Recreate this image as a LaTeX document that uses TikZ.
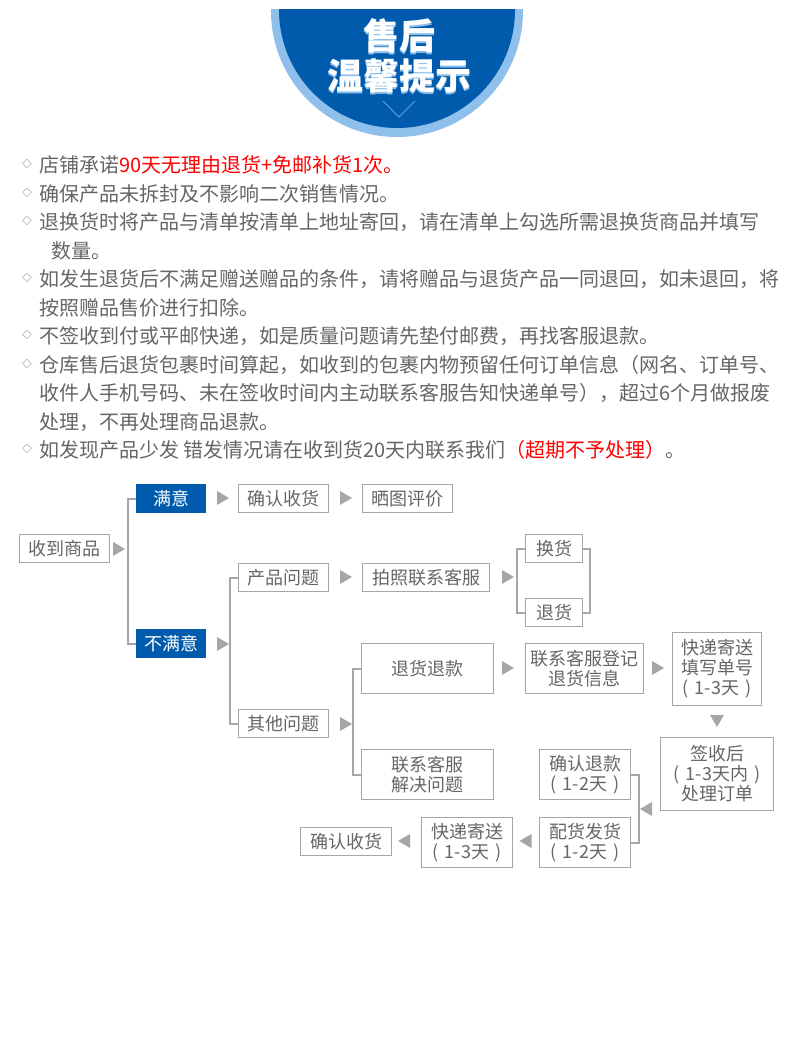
\documentclass[tikz,border=0pt]{standalone}
\usepackage{fontspec}
\usepackage{xcolor}
\setmainfont{Noto Sans CJK SC}
\usetikzlibrary{positioning}

\definecolor{deepblue}{HTML}{005BAC}
\definecolor{paleblue}{HTML}{8FC0EC}
\definecolor{linegray}{HTML}{A6A6A6}
\definecolor{textgray}{HTML}{666666}

\newcommand{\days}[1]{(\hspace{4.5pt}#1\hspace{4.5pt})}

\tikzset{
  x=0.75pt, y=-0.75pt,
  sized/.style 2 args={minimum width=#1*0.75pt, minimum height=#2*0.75pt},
  box/.style={draw=linegray, line width=0.85pt, text=textgray, inner sep=0pt, outer sep=0pt, align=center,
    font=\fontsize{13.5}{15}\selectfont},
  bluebox/.style={box, draw=none, fill=deepblue, text=white},
  bracket/.style={draw=linegray, line width=1.5pt},
  tip/.style={fill=linegray},
  para/.style={anchor=west, text=textgray, inner sep=0pt, font=\fontsize{15}{15}\selectfont},
  title/.style={font=\fontsize{27}{27}\selectfont\bfseries}
}

\begin{document}
\begin{tikzpicture}
\fill[white] (0,0) rectangle (790,1046);

% header
\begin{scope}
\clip (0,9) rectangle (790,150);
\fill[paleblue] (397,11) circle (126);
\fill[deepblue] (397,10) circle (118);
\end{scope}
\draw[paleblue!70!deepblue, line width=0.6pt] (383,101) -- (399,117) -- (415,101);
\node[title, text=paleblue] (head1s) at (399,38) {售后};
\node[title, text=paleblue] (head2s) at (399,78) {温馨提示};
\node[title, text=white] (head1) at (399,36) {售后};
\node[title, text=white] (head2) at (399,76) {温馨提示};

% notes
\foreach \y in {164,193,221,278,335,364,449}
  \node[text=textgray, font=\fontsize{7}{7}\selectfont, inner sep=0pt] at (27,\y) {◇};
\node[para] (line1) at (39,165) {店铺承诺\textcolor{red}{90天无理由退货+免邮补货1次。}};
\node[para] (line2) at (39,194) {确保产品未拆封及不影响二次销售情况。};
\node[para] (line3) at (39,222) {退换货时将产品与清单按清单上地址寄回，请在清单上勾选所需退换货商品并填写};
\node[para] (line4) at (51,251) {数量。};
\node[para] (line5) at (39,279) {如发生退货后不满足赠送赠品的条件，请将赠品与退货产品一同退回，如未退回，将};
\node[para] (line6) at (39,308) {按照赠品售价进行扣除。};
\node[para] (line7) at (39,336) {不签收到付或平邮快递，如是质量问题请先垫付邮费，再找客服退款。};
\node[para] (line8) at (39,365) {仓库售后退货包裹时间算起，如收到的包裹内物预留任何订单信息（网名、订单号、};
\node[para] (line9) at (39,393) {收件人手机号码、未在签收时间内主动联系客服告知快递单号），超过6个月做报废};
\node[para] (line10) at (39,422) {处理，不再处理商品退款。};
\node[para] (line11) at (39,450) {如发现产品少发 错发情况请在收到货20天内联系我们\textcolor{red}{（超期不予处理）}。};

% flow boxes
\node[box, sized={90}{28}] (received) at (64.5,548.5) {收到商品};
\node[bluebox, sized={70}{29}] (happy) at (171,498.5) {满意};
\node[bluebox, sized={70}{29}] (unhappy) at (171,643.5) {不满意};
\node[box, sized={90}{28}] (confirm) at (283.5,498.5) {确认收货};
\node[box, sized={90}{28}] (review) at (407.5,498.5) {晒图评价};
\node[box, sized={90}{28}] (product) at (283.5,577.5) {产品问题};
\node[box, sized={90}{28}] (other) at (283.5,723.5) {其他问题};
\node[box, sized={127}{28}] (photo) at (426,577.5) {拍照联系客服};
\node[box, sized={57}{28}] (exchange) at (554,548.5) {换货};
\node[box, sized={57}{28}] (giveback) at (554,612.5) {退货};
\node[box, sized={132}{50}] (refund) at (427.5,668.5) {退货退款};
\node[box, sized={118}{50}] (register) at (584.5,668.5) {联系客服登记\\退货信息};
\node[box, sized={89}{73}] (courier) at (717,669) {快递寄送\\填写单号\\\days{1-3天}};
\node[box, sized={113}{73}] (signed) at (717,774) {签收后\\\days{1-3天内}\\处理订单};
\node[box, sized={132}{50}] (service) at (427.5,774.5) {联系客服\\解决问题};
\node[box, sized={91}{50}] (repay) at (585,774.5) {确认退款\\\days{1-2天}};
\node[box, sized={91}{50}] (resend) at (585,842.5) {配货发货\\\days{1-2天}};
\node[box, sized={91}{50}] (express) at (467,842.5) {快递寄送\\\days{1-3天}};
\node[box, sized={91}{28}] (finish) at (346,841.5) {确认收货};

% brackets
\coordinate (bar1) at (128,570);
\coordinate (bar2) at (230,650);
\coordinate (bar3) at (353,720);
\coordinate (bar4) at (517,580);
\coordinate (bar5) at (590,580);
\coordinate (bar6) at (639,808);
\draw[bracket] (happy.west) -| (bar1) |- (unhappy.west);
\draw[bracket] (product.west) -| (bar2) |- (other.west);
\draw[bracket] (refund.west) -| (bar3) |- (service.west);
\draw[bracket] (exchange.west) -| (bar4) |- (giveback.west);
\draw[bracket] (exchange.east) -| (bar5) |- (giveback.east);
\draw[bracket] (repay.east) -| (bar6) |- (resend.east);

% triangles
\foreach \x/\y in {113/549, 217/498, 340/498, 217/644, 340/577, 502/577, 502/668, 652/668, 340/724}
  \fill[tip] (\x,\y-7) -- (\x+12,\y) -- (\x,\y+7) -- cycle;
\foreach \x/\y in {652/809, 531.5/841, 410/841}
  \fill[tip] (\x,\y-7) -- (\x-12,\y) -- (\x,\y+7) -- cycle;
\fill[tip] (710,715) -- (724,715) -- (717,727) -- cycle;
\end{tikzpicture}
\end{document}
